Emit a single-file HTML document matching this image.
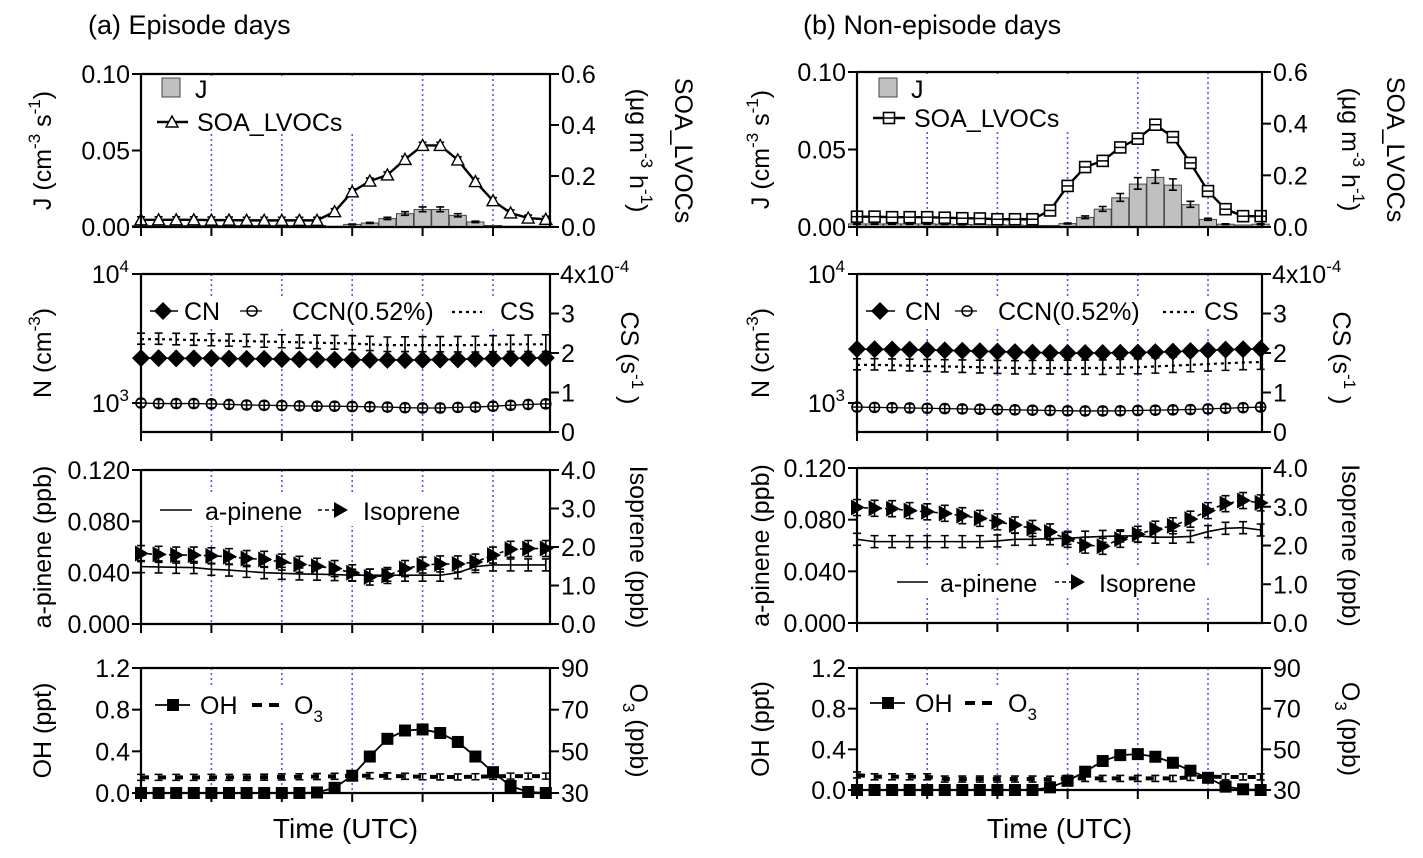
<!DOCTYPE html>
<html><head><meta charset="utf-8"><style>
body{margin:0;background:#fff}
svg{display:block;font-family:"Liberation Sans",Arial,sans-serif}
</style></head><body>
<svg id="chart" width="1423" height="858" viewBox="0 0 1423 858" xmlns="http://www.w3.org/2000/svg">
<text x="88" y="34" font-size="27">(a) Episode days</text>
<text x="803" y="34" font-size="27">(b) Non-episode days</text>
</svg>
<script>
// ---------- data ----------
const hours = [0,1,2,3,4,5,6,7,8,9,10,11,12,13,14,15,16,17,18,19,20,21,22,23];
// Episode days (a)
const epJ = [0.001,0.001,0.001,0.001,0.001,0.001,0.001,0.001,0.001,0.001,0.001,0.0005,0.0017,0.0026,0.0055,0.0087,0.0114,0.0114,0.0076,0.0033,0.001,0.0005,0.0005,0.0005];
const epSOA = [0.028,0.028,0.028,0.028,0.027,0.027,0.026,0.026,0.026,0.026,0.026,0.06,0.138,0.18,0.204,0.265,0.32,0.32,0.263,0.178,0.103,0.055,0.035,0.03];
const epCN = [2230,2230,2220,2220,2220,2210,2200,2200,2190,2180,2170,2170,2160,2160,2160,2150,2160,2170,2180,2200,2210,2220,2230,2240];
const epCCN = [1000,990,990,990,985,975,965,960,955,950,945,945,940,935,930,920,915,915,925,930,945,960,975,985];
const epCS = [2.35e-4,2.35e-4,2.34e-4,2.33e-4,2.32e-4,2.31e-4,2.3e-4,2.29e-4,2.28e-4,2.27e-4,2.26e-4,2.25e-4,2.24e-4,2.22e-4,2.2e-4,2.2e-4,2.2e-4,2.2e-4,2.2e-4,2.2e-4,2.21e-4,2.22e-4,2.22e-4,2.22e-4];
const epPin = [0.0447,0.0445,0.0442,0.044,0.0426,0.042,0.041,0.040,0.0395,0.039,0.0388,0.0385,0.038,0.038,0.038,0.038,0.038,0.038,0.040,0.0447,0.046,0.046,0.046,0.046];
const epIso = [1.83,1.81,1.79,1.79,1.77,1.75,1.70,1.68,1.61,1.55,1.50,1.44,1.33,1.22,1.26,1.44,1.53,1.56,1.56,1.61,1.79,1.94,1.96,1.96];
const epOH = [0,0,0,0,0,0,0,0,0,0,0.005,0.05,0.166,0.35,0.52,0.6,0.61,0.576,0.49,0.35,0.2,0.067,0.01,0];
const epO3 = [37.5,37.5,37.5,37.5,37.5,37.5,37.5,37.6,37.7,37.8,37.9,38.0,38.3,38.3,38.2,38.0,37.8,37.7,37.7,37.8,38.0,38.1,38.1,38.1];
// Non-episode days (b)
const neJ = [0.002,0.002,0.002,0.002,0.002,0.0018,0.0016,0.0015,0.0015,0.0012,0.001,0.001,0.0022,0.0062,0.0115,0.0188,0.0277,0.032,0.027,0.0144,0.0049,0.0018,0.0013,0.0018];
const neSOA = [0.04,0.04,0.038,0.038,0.038,0.036,0.034,0.033,0.03,0.03,0.03,0.064,0.159,0.232,0.256,0.308,0.342,0.396,0.348,0.248,0.139,0.069,0.042,0.042];
const neCN = [2620,2610,2600,2590,2580,2560,2540,2520,2500,2480,2460,2450,2440,2440,2440,2450,2460,2480,2500,2530,2560,2590,2610,2630];
const neCCN = [930,925,920,915,910,905,900,895,890,885,880,875,870,868,868,870,875,880,885,890,900,910,920,930];
const neCS = [1.7e-4,1.7e-4,1.69e-4,1.68e-4,1.67e-4,1.66e-4,1.65e-4,1.64e-4,1.63e-4,1.62e-4,1.62e-4,1.62e-4,1.62e-4,1.62e-4,1.62e-4,1.63e-4,1.64e-4,1.66e-4,1.68e-4,1.7e-4,1.72e-4,1.74e-4,1.76e-4,1.77e-4];
const nePin = [0.0648,0.063,0.063,0.063,0.063,0.063,0.063,0.063,0.0635,0.0648,0.0648,0.0653,0.0656,0.0664,0.067,0.0674,0.0674,0.0664,0.0664,0.067,0.0708,0.0733,0.0738,0.072];
const neIso = [2.98,2.96,2.95,2.90,2.87,2.83,2.77,2.70,2.61,2.53,2.44,2.35,2.16,2.01,1.98,2.16,2.29,2.42,2.51,2.68,2.90,3.08,3.16,3.10];
const neOH = [0,0,0,0,0,0,0,0,0,0,0,0.026,0.09,0.18,0.285,0.343,0.353,0.327,0.268,0.19,0.12,0.033,0.007,0];
const neO3 = [37.4,36.5,36.5,36.5,36.5,35.4,35.4,35.4,35.4,35.4,35.4,35.3,35.7,35.7,35.7,35.7,35.7,35.7,35.7,36.2,36.6,36.4,36.4,36.4];
// tick labels
const jTicks = ["0.00","0.05","0.10"];
const soaTicks = ["0.0","0.2","0.4","0.6"];
const csTicks = ["0","1","2","3"];
const pinTicks = ["0.000","0.040","0.080","0.120"];
const isoTicks = ["0.0","1.0","2.0","3.0","4.0"];
const ohTicks = ["0.0","0.4","0.8","1.2"];
const o3Ticks = ["30","50","70","90"];

// ---------- drawing ----------
const NS="http://www.w3.org/2000/svg";
const svg=document.getElementById('chart');
const FS=25;
function mk(tag,attrs,parent){const e=document.createElementNS(NS,tag);for(const k in attrs)e.setAttribute(k,attrs[k]);(parent||svg).appendChild(e);return e;}
function txt(x,y,s,size,anchor,parent){const t=mk('text',{x:x,y:y,'font-size':size,'text-anchor':anchor||'start'},parent);t.textContent=s;return t;}

const sides=[
 {x0:141,x1:550,step:17.6,P:[[74,227],[274,432],[470,624],[668,793]],d:{J:epJ,SOA:epSOA,CN:epCN,CCN:epCCN,CS:epCS,Pin:epPin,Iso:epIso,OH:epOH,O3:epO3},soaMark:'tri',ytx:51,name:'episode'},
 {x0:857,x1:1262,step:17.55,P:[[72,227],[274,432],[468,623],[668,790]],d:{J:neJ,SOA:neSOA,CN:neCN,CCN:neCCN,CS:neCS,Pin:nePin,Iso:neIso,OH:neOH,O3:neO3},soaMark:'sq',ytx:769,name:'non-episode'}
];

function marker(type,x,y,g){
 if(type==='tri') mk('path',{d:`M${x} ${y-6}L${x+6} ${y+5}L${x-6} ${y+5}Z`,fill:'#fff',stroke:'#000','stroke-width':1.4},g);
 else if(type==='sq'){mk('rect',{x:x-5.5,y:y-5.5,width:11,height:11,fill:'#fff',stroke:'#000','stroke-width':1.6},g);mk('line',{x1:x-5.5,x2:x+5.5,y1:y,y2:y,stroke:'#000','stroke-width':1.5},g);}
 else if(type==='dia') mk('path',{d:`M${x} ${y-9}L${x+9} ${y}L${x} ${y+9}L${x-9} ${y}Z`,fill:'#000'},g);
 else if(type==='circ'){mk('circle',{cx:x,cy:y,r:5,fill:'#fff',stroke:'#000','stroke-width':1.6},g);mk('line',{x1:x-5,x2:x+5,y1:y,y2:y,stroke:'#000','stroke-width':1.4},g);}
 else if(type==='rtri') mk('path',{d:`M${x-6} ${y-8}L${x+8} ${y}L${x-6} ${y+8}Z`,fill:'#000'},g);
 else if(type==='fsq') mk('rect',{x:x-6,y:y-6,width:12,height:12,fill:'#000'},g);
}
function ebar(x,y1,y2,g){mk('path',{d:`M${x} ${y1}V${y2}M${x-4} ${y1}H${x+4}M${x-4} ${y2}H${x+4}`,stroke:'#000','stroke-width':1.6,fill:'none'},g);}

sides.forEach((s,si)=>{
 const hx=h=>s.x0+h*s.step;
 const G=mk('g',{});
 
 
 s.P.forEach((p,pi)=>{
  const [top,bot]=p;
  const g=mk('g',{},G);
  
  
  for(let h=4;h<=20;h+=4){const l=mk('line',{x1:hx(h),x2:hx(h),y1:top,y2:bot,stroke:'#5555ff','stroke-width':1.6,'stroke-dasharray':'2 3'},g);}
  for(let h=0;h<=20;h+=4) mk('line',{x1:hx(h),x2:hx(h),y1:bot,y2:bot+9,stroke:'#000','stroke-width':2},g);
  const d=s.d; const H=bot-top;
  const yL=(v,max)=>bot-v/max*H;
  let leftTicks,rightTicks;
  const series=mk('g',{},g);
  
  
  if(pi===0){
   leftTicks=jTicks;rightTicks=soaTicks;
   hours.forEach((h,i)=>{const y=yL(d.J[i],0.1);const r=mk('rect',{x:hx(h)-8.5,y:y,width:17,height:bot-y,fill:'#c0c0c0',stroke:'#444','stroke-width':1},series);if(d.J[i]>0.0015)ebar(hx(h),yL(d.J[i]*1.15,0.1),yL(d.J[i]*0.88,0.1),series);});
   const pts=hours.map((h,i)=>[hx(h),yL(d.SOA[i],0.6)]);
   const pl=mk('polyline',{points:pts.join(' '),fill:'none',stroke:'#000','stroke-width':2.4},series);
   pts.forEach((p,i)=>{ebar(p[0],yL(d.SOA[i]+0.012,0.6),yL(d.SOA[i]-0.012,0.6),series);marker(s.soaMark,p[0],p[1],series);});
  } else if(pi===1){
   leftTicks=null;rightTicks=csTicks;
   const lg=v=>403-(Math.log10(v)-3)*129;
   const cs=hours.map((h,i)=>[hx(h),yL(d.CS[i],4e-4)]);
   const cl=mk('polyline',{points:cs.join(' '),fill:'none',stroke:'#000','stroke-width':2.2,'stroke-dasharray':'3 4'},series);
   cs.forEach((p,i)=>ebar(p[0],p[1]-6-i*0.15,p[1]+5+i*0.1,series));
   const cn=hours.map((h,i)=>[hx(h),lg(d.CN[i])]);
   mk('polyline',{points:cn.join(' '),fill:'none',stroke:'#000','stroke-width':1.6},series);
   cn.forEach(p=>marker('dia',p[0],p[1],series));
   const cc=hours.map((h,i)=>[hx(h),lg(d.CCN[i])]);
   mk('polyline',{points:cc.join(' '),fill:'none',stroke:'#000','stroke-width':1.3},series);
   cc.forEach(p=>{marker('circ',p[0],p[1],series);ebar(p[0],p[1]-4,p[1]+4,series);});
   const t4=txt(s.x0-12,lg(10000)+9,'10',FS,'end',g);const s4=mk('tspan',{dy:-11,'font-size':17},t4);s4.textContent='4';
   const t3=txt(s.x0-12,lg(1000)+9,'10',FS,'end',g);const s3=mk('tspan',{dy:-11,'font-size':17},t3);s3.textContent='3';
   mk('line',{x1:s.x0-9,x2:s.x0,y1:lg(10000),y2:lg(10000),stroke:'#000','stroke-width':2},g);
   mk('line',{x1:s.x0-9,x2:s.x0,y1:lg(1000),y2:lg(1000),stroke:'#000','stroke-width':2},g);
   const rt=txt(s.x1+10,top+9,'4x10',FS,'start',g);const rs=mk('tspan',{dy:-11,'font-size':17},rt);rs.textContent='-4';
   mk('line',{x1:s.x1,x2:s.x1+9,y1:top,y2:top,stroke:'#000','stroke-width':2},g);
  } else if(pi===2){
   leftTicks=pinTicks;rightTicks=isoTicks;
   const pp=hours.map((h,i)=>[hx(h),yL(d.Pin[i],0.12)]);
   const pl=mk('polyline',{points:pp.join(' '),fill:'none',stroke:'#000','stroke-width':1.6},series);
   pp.forEach(p=>ebar(p[0],p[1]-6,p[1]+6,series));
   const ip=hours.map((h,i)=>[hx(h),yL(d.Iso[i],4)]);
   const il=mk('polyline',{points:ip.join(' '),fill:'none',stroke:'#000','stroke-width':1.6,'stroke-dasharray':'4 3'},series);
   ip.forEach(p=>{ebar(p[0],p[1]-8,p[1]+8,series);marker('rtri',p[0],p[1],series);});
  } else {
   leftTicks=ohTicks;rightTicks=o3Ticks;
   const op=hours.map((h,i)=>[hx(h),bot-(d.O3[i]-30)/60*H]);
   const ol=mk('polyline',{points:op.join(' '),fill:'none',stroke:'#000','stroke-width':4,'stroke-dasharray':'8 9'},series);
   op.forEach(p=>ebar(p[0],p[1]-3,p[1]+3,series));
   const hp=hours.map((h,i)=>[hx(h),yL(d.OH[i],1.2)]);
   const hl=mk('polyline',{points:hp.join(' '),fill:'none',stroke:'#000','stroke-width':1.8},series);
   hp.forEach(p=>marker('fsq',p[0],p[1],series));
  }
  mk('path',{d:`M${s.x0} ${top}H${s.x1}M${s.x0} ${top}V${bot}H${s.x1}V${top}`,fill:'none',stroke:'#000','stroke-width':2.2},g);
  if(leftTicks){leftTicks.forEach((t,i)=>{const y=bot-i/(leftTicks.length-1)*H;mk('line',{x1:s.x0-9,x2:s.x0,y1:y,y2:y,stroke:'#000','stroke-width':2},g);txt(s.x0-11,y+9,t,FS,'end',g);});}
  rightTicks.forEach((t,i)=>{const n=(pi===1)?4:rightTicks.length-1;const y=bot-i/n*H;mk('line',{x1:s.x1,x2:s.x1+9,y1:y,y2:y,stroke:'#000','stroke-width':2},g);txt(s.x1+11,y+9,t,FS,'start',g);});
 });
 const P=s.P;
 function title(x,cy,rot,parts,name){
  const t=mk('text',{transform:`translate(${x},${cy}) rotate(${rot})`,'font-size':FS,'text-anchor':'middle'},G);
  parts.forEach(([str,mode])=>{let a={};if(mode==='sup')a={dy:-11,'font-size':17};else if(mode==='base')a={dy:11};else if(mode==='sub')a={dy:7,'font-size':17};else if(mode==='unsub')a={dy:-7};const sp=mk('tspan',a,t);sp.textContent=str;});
  
  
 }
 const mid=pi=>(P[pi][0]+P[pi][1])/2;
 title(s.ytx,mid(0),-90,[['J (cm'],['-3','sup'],[' s','base'],['-1','sup'],[')','base']],'left-axis-title-1');
 title(s.x1+125,mid(0),90,[['SOA_LVOCs']],'right-axis-title-1');
 title(s.x1+80,mid(0),90,[['(μg m'],['-3','sup'],[' h','base'],['-1','sup'],[')','base']],'right-axis-title-1-units');
 title(s.ytx,mid(1),-90,[['N (cm'],['-3','sup'],[')','base']],'left-axis-title-2');
 title(s.x1+71,mid(1)+5,90,[['CS (s'],['-1','sup'],[' )','base']],'right-axis-title-2');
 title(s.ytx,mid(2),-90,[['a-pinene (ppb)']],'left-axis-title-3');
 title(s.x1+80,mid(2),90,[['Isoprene (ppb)']],'right-axis-title-3');
 title(s.ytx,mid(3),-90,[['OH (ppt)']],'left-axis-title-4');
 title(s.x1+80,mid(3),90,[['O'],['3','sub'],[' (ppb)','unsub']],'right-axis-title-4');
 const xt=txt((s.x0+s.x1)/2,838,'Time (UTC)',28,'middle',G);

 const L=mk('g',{},G);
 function sub3(x,y){const t=txt(x,y,'O',FS,'start',L);const sp=mk('tspan',{dy:8,'font-size':17},t);sp.textContent='3';}
 if(si===0){
  mk('rect',{x:150,y:78,width:220,height:56,fill:'#fff'},L);
  mk('rect',{x:162,y:78,width:18,height:19,fill:'#c0c0c0',stroke:'#444'},L);txt(195,98,'J',FS,'start',L);
  mk('line',{x1:157,x2:188,y1:122,y2:122,stroke:'#000','stroke-width':2.4},L);marker('tri',172,122,L);txt(197,131,'SOA_LVOCs',FS,'start',L);
  mk('rect',{x:150,y:296,width:390,height:32,fill:'#fff'},L);
  marker('dia',163,311,L);mk('line',{x1:150,x2:178,y1:311,y2:311,stroke:'#000','stroke-width':1.6},L);txt(184,320,'CN',FS,'start',L);
  mk('line',{x1:240,x2:262,y1:311,y2:311,stroke:'#000','stroke-width':1.3},L);marker('circ',252,311,L);txt(292,320,'CCN(0.52%)',FS,'start',L);
  mk('line',{x1:452,x2:482,y1:312,y2:312,stroke:'#000','stroke-width':2.2,'stroke-dasharray':'3 4'},L);txt(500,320,'CS',FS,'start',L);
  mk('rect',{x:150,y:494,width:330,height:32,fill:'#fff'},L);
  mk('line',{x1:160,x2:192,y1:510,y2:510,stroke:'#000','stroke-width':1.6},L);txt(205,520,'a-pinene',FS,'start',L);
  mk('line',{x1:318,x2:345,y1:510,y2:510,stroke:'#000','stroke-width':1.6,'stroke-dasharray':'4 3'},L);marker('rtri',340,510,L);txt(363,520,'Isoprene',FS,'start',L);
  mk('rect',{x:150,y:688,width:200,height:35,fill:'#fff'},L);
  mk('line',{x1:155,x2:190,y1:705,y2:705,stroke:'#000','stroke-width':1.8},L);marker('fsq',173,705,L);txt(200,714,'OH',FS,'start',L);
  mk('line',{x1:252,x2:282,y1:705,y2:705,stroke:'#000','stroke-width':4,'stroke-dasharray':'10 7'},L);
  sub3(294,714);
 } else {
  mk('rect',{x:866,y:76,width:220,height:56,fill:'#fff'},L);
  mk('rect',{x:879,y:78,width:18,height:19,fill:'#c0c0c0',stroke:'#444'},L);txt(911,98,'J',FS,'start',L);
  mk('line',{x1:873,x2:905,y1:118,y2:118,stroke:'#000','stroke-width':2.4},L);marker('sq',889,118,L);txt(914,127,'SOA_LVOCs',FS,'start',L);
  mk('rect',{x:866,y:296,width:390,height:32,fill:'#fff'},L);
  marker('dia',880,311,L);mk('line',{x1:866,x2:895,y1:311,y2:311,stroke:'#000','stroke-width':1.6},L);txt(905,320,'CN',FS,'start',L);
  mk('line',{x1:955,x2:977,y1:311,y2:311,stroke:'#000','stroke-width':1.3},L);marker('circ',967,311,L);txt(998,320,'CCN(0.52%)',FS,'start',L);
  mk('line',{x1:1163,x2:1194,y1:312,y2:312,stroke:'#000','stroke-width':2.2,'stroke-dasharray':'3 4'},L);txt(1204,320,'CS',FS,'start',L);
  mk('rect',{x:890,y:566,width:320,height:32,fill:'#fff'},L);
  mk('line',{x1:897,x2:928,y1:582,y2:582,stroke:'#000','stroke-width':1.6},L);txt(940,592,'a-pinene',FS,'start',L);
  mk('line',{x1:1055,x2:1080,y1:582,y2:582,stroke:'#000','stroke-width':1.6,'stroke-dasharray':'4 3'},L);marker('rtri',1077,582,L);txt(1099,592,'Isoprene',FS,'start',L);
  mk('rect',{x:866,y:686,width:200,height:35,fill:'#fff'},L);
  mk('line',{x1:870,x2:905,y1:703,y2:703,stroke:'#000','stroke-width':1.8},L);marker('fsq',888,703,L);txt(915,712,'OH',FS,'start',L);
  mk('line',{x1:965,x2:995,y1:703,y2:703,stroke:'#000','stroke-width':4,'stroke-dasharray':'10 7'},L);
  sub3(1008,712);
 }
});
</script>
</body></html>
